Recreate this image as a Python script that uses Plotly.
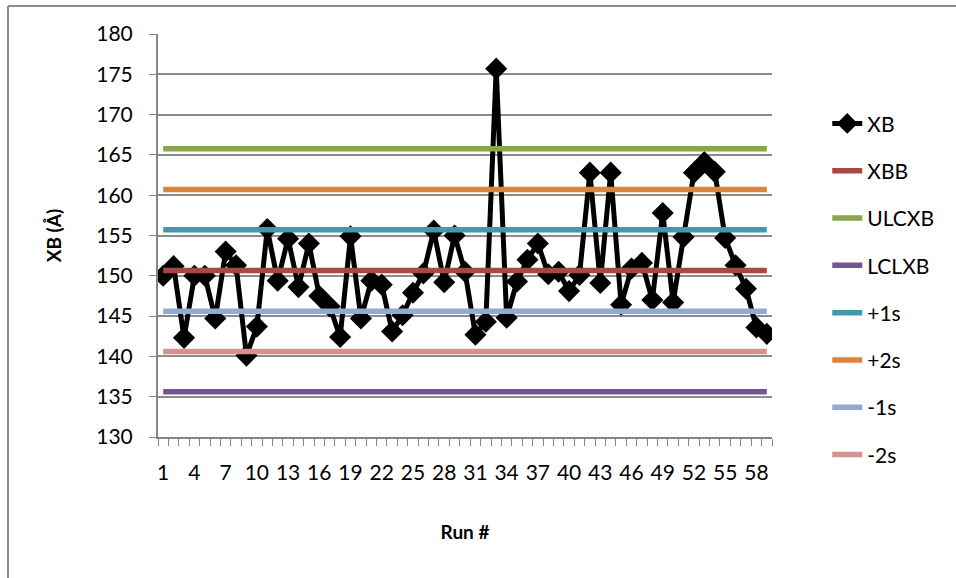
import plotly.graph_objects as go

runs = list(range(1, 60))
xb = [150.0, 151.2, 142.3, 150.0, 150.0, 144.7, 153.0, 151.3, 140.1, 143.7,
      155.8, 149.4, 154.6, 148.6, 154.0, 147.5, 146.2, 142.4, 154.9, 144.7,
      149.4, 148.9, 143.1, 145.1, 147.9, 150.3, 155.6, 149.2, 155.0, 150.5,
      142.7, 144.3, 175.7, 144.8, 149.3, 152.0, 154.0, 150.2, 150.5, 148.1,
      150.1, 162.8, 149.1, 162.8, 146.4, 150.9, 151.6, 147.0, 157.8, 146.7,
      154.8, 162.8, 164.1, 162.9, 154.7, 151.3, 148.4, 143.6, 142.8]

limit_names = ["XBB", "ULCXB", "LCLXB", "+1s", "+2s", "-1s", "-2s"]
limit_values = [150.65, 165.75, 135.6, 155.7, 160.7, 145.6, 140.6]
limit_colors = ["#AA4643", "#89A54E", "#71588F", "#4198AF", "#DB843D", "#93A9CF", "#D19392"]

tick_labels = [str(v) for v in range(1, 60, 3)]

fig = go.Figure()
fig.add_trace(go.Scatter(
    x=runs, y=xb, name="XB", mode="lines+markers", legendgroup="g0",
    line=dict(color="black", width=5),
    marker=dict(symbol="diamond", size=17, color="black"),
))
for i, (nm, val, col) in enumerate(zip(limit_names, limit_values, limit_colors)):
    fig.add_trace(go.Scatter(
        x=runs, y=[val] * len(runs), name=nm, mode="lines", legendgroup=f"g{i+1}",
        line=dict(color=col, width=5.5),
    ))

fig.update_layout(
    width=956, height=578,
    margin=dict(l=158, r=184, t=34, b=141),
    paper_bgcolor="white", plot_bgcolor="white",
    font=dict(family="Lato, sans-serif", size=21, color="black"),
    showlegend=True,
    legend=dict(x=1.09, xanchor="left", y=0.828, yanchor="top",
                font=dict(size=21), tracegroupgap=17, bgcolor="rgba(0,0,0,0)"),
    xaxis=dict(
        range=[0.5, 59.5], tickmode="array",
        tickvals=list(range(1, 60, 3)), ticktext=tick_labels,
        ticks="", showgrid=False, zeroline=False,
        showline=True, linecolor="#868686", linewidth=2,
        ticklabelstandoff=16,
        minor=dict(tickmode="linear", tick0=0.5, dtick=1, ticks="outside",
                   ticklen=7, tickcolor="#868686", tickwidth=1, showgrid=False),
        title=dict(text="<b>Run #</b>", font=dict(size=19), standoff=42),
    ),
    yaxis=dict(
        range=[130, 180], dtick=5, tick0=130,
        ticks="outside", ticklen=7, tickcolor="#868686", tickwidth=1,
        showgrid=True, gridcolor="#8C8C8C", gridwidth=1.5,
        zeroline=False, showline=True, linecolor="#868686", linewidth=2,
        ticklabelstandoff=12,
        title=dict(text="<b>XB (Å)</b>", font=dict(size=19), standoff=30),
    ),
    shapes=[
        dict(type="line", xref="paper", yref="paper",
             x0=-(158 - 8) / 614, x1=-(158 - 8) / 614,
             y0=(437 - 6) / 403, y1=-(578 - 437) / 403,
             line=dict(color="#8C8C8C", width=2)),
        dict(type="line", xref="paper", yref="paper",
             x0=-(158 - 8) / 614, x1=(956 - 158) / 614,
             y0=(437 - 6) / 403, y1=(437 - 6) / 403,
             line=dict(color="#8C8C8C", width=2)),
    ],
)

fig.write_html("out.html")
